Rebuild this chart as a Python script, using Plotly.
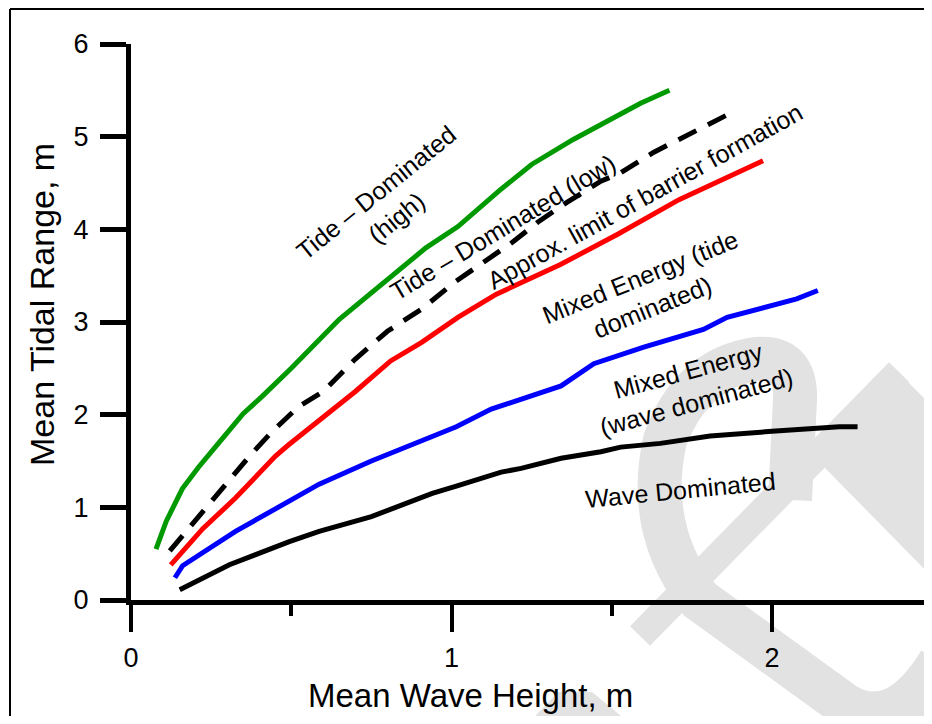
import plotly.graph_objects as go

# ---------------- data ----------------
tide_high_x = [0.078, 0.11, 0.16, 0.21, 0.27, 0.35, 0.41, 0.50, 0.65, 0.80, 0.92, 1.02, 1.15, 1.25, 1.38, 1.59, 1.68]
tide_high_y = [0.55, 0.85, 1.20, 1.43, 1.68, 2.01, 2.20, 2.50, 3.03, 3.45, 3.80, 4.03, 4.42, 4.70, 4.97, 5.36, 5.50]

barrier_x = [0.121, 0.224, 0.296, 0.369, 0.441, 0.524, 0.60, 0.70, 0.80, 0.907, 1.01, 1.10, 1.19, 1.27, 1.36, 1.466, 1.528, 1.63, 1.736, 1.863]
barrier_y = [0.53, 0.96, 1.24, 1.55, 1.82, 2.09, 2.25, 2.60, 2.90, 3.14, 3.43, 3.65, 3.86, 4.08, 4.29, 4.52, 4.61, 4.83, 5.02, 5.24]

mixed_tide_x = [0.124, 0.224, 0.326, 0.45, 0.49, 0.587, 0.70, 0.81, 0.907, 1.02, 1.14, 1.34, 1.52, 1.71, 1.972]
mixed_tide_y = [0.38, 0.77, 1.10, 1.55, 1.67, 1.94, 2.25, 2.58, 2.78, 3.05, 3.30, 3.62, 3.95, 4.32, 4.74]

mixed_wave_x = [0.137, 0.161, 0.326, 0.503, 0.587, 0.75, 1.015, 1.124, 1.217, 1.342, 1.444, 1.60, 1.786, 1.86, 2.077, 2.143]
mixed_wave_y = [0.24, 0.37, 0.74, 1.08, 1.25, 1.50, 1.87, 2.06, 2.17, 2.31, 2.55, 2.73, 2.92, 3.05, 3.25, 3.34]

wave_dom_x = [0.152, 0.307, 0.494, 0.587, 0.75, 0.94, 1.015, 1.155, 1.217, 1.342, 1.466, 1.528, 1.652, 1.807, 2.0, 2.21, 2.267]
wave_dom_y = [0.11, 0.38, 0.63, 0.74, 0.90, 1.15, 1.23, 1.38, 1.42, 1.53, 1.60, 1.65, 1.69, 1.77, 1.82, 1.87, 1.87]

x_major_ticks = [0, 1, 2]
x_minor_ticks = [0.5, 1.5]
y_ticks = [0, 1, 2, 3, 4, 5, 6]

x_title = "Mean Wave Height, m"
y_title = "Mean Tidal Range, m"

region_labels = [
    "Tide – Dominated<br>(high)",
    "Tide – Dominated (low)",
    "Approx. limit of barrier formation",
    "Mixed Energy (tide<br>dominated)",
    "Mixed Energy<br>(wave dominated)",
    "Wave Dominated",
]

# ---------------- layout geometry ----------------
# the page body has an 8px margin, so the figure starts at (8, 8) of the window
OFF = 8
W, H = 932 - OFF, 724 - 2 * OFF
PLOT_L, PLOT_T, PLOT_B = 131, 44, 600          # window pixels
ML, MR, MT = PLOT_L - OFF, 0, PLOT_T - OFF
MB = H - (PLOT_B - OFF)
PW = W - ML - MR
PH = H - MT - MB
X_MAX = PW / 320.5
FONT = "Liberation Sans, Arial, sans-serif"


def paper(px, py):
    """window pixel -> paper coordinates"""
    fx = px - OFF
    fy = py - OFF
    return (fx - ML) / PW, (H - MB - fy) / PH


def path_from(points, close=False):
    parts = []
    for pt in points:
        if isinstance(pt, str):
            parts.append(pt)
            continue
        x, y = paper(*pt)
        parts.append(f"{x:.5f},{y:.5f}")
    s = " ".join(parts)
    if close:
        s += " Z"
    return s


fig = go.Figure()

series = [
    (tide_high_x, tide_high_y, "#009a00", "solid"),
    (barrier_x, barrier_y, "black", "20px,13px"),
    (mixed_tide_x, mixed_tide_y, "#ff0000", "solid"),
    (mixed_wave_x, mixed_wave_y, "#0000ff", "solid"),
    (wave_dom_x, wave_dom_y, "black", "solid"),
]
for xs, ys, col, dash in series:
    fig.add_trace(go.Scatter(x=xs, y=ys, mode="lines",
                             line=dict(color=col, width=5, dash=dash),
                             showlegend=False, hoverinfo="skip"))

# ---------------- decorations: watermark & frame ----------------
WM = "#e2e2e2"
shapes = []
xa, ya = paper(899, 372)
xb, yb = paper(640, 636)
shapes.append(dict(type="line", xref="paper", yref="paper", x0=xa, y0=ya, x1=xb, y1=yb,
                   line=dict(color=WM, width=28), layer="below"))
shapes.append(dict(type="path", xref="paper", yref="paper",
                   path="M " + path_from([(905, 379), "L", (945, 419), "L", (945, 590), "L", (822, 465)], close=True),
                   fillcolor=WM, line=dict(width=0), layer="below"))
p = ("M " + path_from([(790, 500)]) + " L " + path_from([(795, 400)]) +
     " Q " + path_from([(797, 352), (750, 360)]) +
     " Q " + path_from([(690, 372), (665, 440)]) +
     " Q " + path_from([(645, 530), (700, 600)]) + " L " + path_from([(845, 705)]) +
     " Q " + path_from([(895, 735), (940, 662)]))
shapes.append(dict(type="path", xref="paper", yref="paper", path=p,
                   line=dict(color=WM, width=44), layer="below"))
shapes.append(dict(type="path", xref="paper", yref="paper",
                   path="M " + path_from([(522, 730), "L", (558, 692), "L", (592, 692), "L", (638, 730)], close=True),
                   fillcolor=WM, line=dict(width=0), layer="below"))
# page frame (left and top edges)
fx0, fy0 = paper(10, 9)
fx1, fy1 = paper(940, 740)
shapes.append(dict(type="line", xref="paper", yref="paper", x0=fx0, y0=fy0, x1=fx0, y1=fy1,
                   line=dict(color="black", width=2)))
shapes.append(dict(type="line", xref="paper", yref="paper", x0=fx0, y0=fy0, x1=fx1, y1=fy0,
                   line=dict(color="black", width=2)))

# ---------------- annotations ----------------
ann = []
label_pos = [(386, 205, -39), (503, 227, -31), (645, 196, -29), (646, 292, -22), (692, 387, -15), (680, 490, -5.5)]
for txt, (px_, py_, ang) in zip(region_labels, label_pos):
    ax_, ay_ = paper(px_, py_)
    ann.append(dict(text=txt, x=ax_, y=ay_, xref="paper", yref="paper", showarrow=False,
                    textangle=ang, xanchor="center", yanchor="middle", align="center",
                    font=dict(family=FONT, size=25, color="black")))
tx, ty = paper(470, 695)
ann.append(dict(text=x_title, x=tx, y=ty, xref="paper", yref="paper", showarrow=False,
                xanchor="center", yanchor="middle", font=dict(family=FONT, size=33, color="black")))
tx, ty = paper(42, 305)
ann.append(dict(text=y_title, x=tx, y=ty, xref="paper", yref="paper", showarrow=False, textangle=-90,
                xanchor="center", yanchor="middle", font=dict(family=FONT, size=34, color="black")))

fig.update_layout(
    width=W, height=H,
    margin=dict(l=ML, r=MR, t=MT, b=MB, pad=0),
    paper_bgcolor="white", plot_bgcolor="rgba(0,0,0,0)",
    shapes=shapes, annotations=ann, showlegend=False,
    font=dict(family=FONT, color="black"),
)
fig.update_xaxes(range=[0, X_MAX], showgrid=False, zeroline=False,
                 showline=True, linewidth=5, linecolor="black",
                 ticks="outside", ticklen=27, tickwidth=4, tickcolor="black",
                 tickvals=x_major_ticks, ticktext=[str(v) for v in x_major_ticks],
                 tickfont=dict(family=FONT, size=27, color="black"), ticklabelstandoff=3,
                 minor=dict(tickvals=x_minor_ticks, ticks="outside", ticklen=11, tickwidth=4,
                            tickcolor="black", showgrid=False))
fig.update_yaxes(range=[0, 6], showgrid=False, zeroline=False,
                 showline=True, linewidth=5, linecolor="black",
                 ticks="outside", ticklen=26, tickwidth=5, tickcolor="black",
                 tickvals=y_ticks, ticktext=[str(v) for v in y_ticks],
                 tickfont=dict(family=FONT, size=27, color="black"), ticklabelstandoff=6)

fig.write_html("out.html")
